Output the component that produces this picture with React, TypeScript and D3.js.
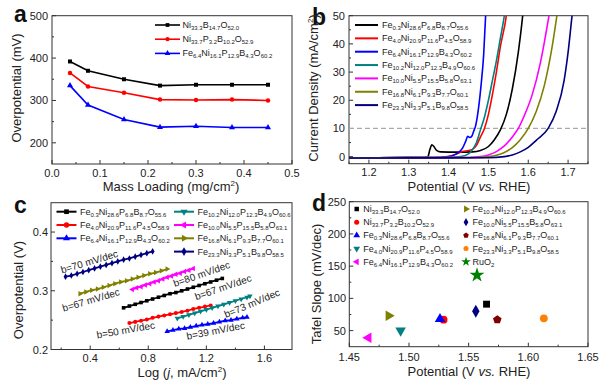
import React from 'react';
import * as d3 from 'd3';

const FONT = 'Arial, "Liberation Sans", Helvetica, sans-serif';
const INK = '#222';

// ---------- Panel a: overpotential vs mass loading ----------
const massLoading = [0.0375, 0.075, 0.15, 0.225, 0.3, 0.375, 0.45];
const etaNiBO = [392, 370, 350, 335, 337, 337, 337];
const etaNiPBO = [365, 333, 318, 302, 301, 302, 300];
const etaFeNiPBO = [335, 289, 255, 237, 239, 236, 236];
const labelsA = ['Ni33.3B14.7O52.0', 'Ni33.7P3.2B10.2O52.9', 'Fe6.4Ni16.1P12.9B4.3O60.2'];
const colorsA = ['#000000', '#ff0000', '#0000ff'];
const shapesA = ['square', 'circle', 'triUp'];

// ---------- Panel b: LSV curves [V, mA/cm2] ----------
const lsvFe03: [number, number][] = [[1.15, -0.4], [1.3, -0.35], [1.34, -0.3], [1.348, 0], [1.353, 2.5], [1.358, 4.2], [1.363, 3.6], [1.37, 2.2], [1.38, 1.7], [1.42, 1.6], [1.46, 1.7], [1.48, 2.2], [1.5, 3.6], [1.515, 6], [1.53, 9.5], [1.545, 15], [1.56, 24], [1.575, 37], [1.586, 50], [1.59, 56]];
const lsvFe40: [number, number][] = [[1.15, -0.4], [1.3, -0.35], [1.38, -0.3], [1.40, 0], [1.42, 1], [1.435, 1.8], [1.45, 2.2], [1.46, 2.6], [1.47, 4], [1.48, 7], [1.49, 10], [1.5, 15], [1.51, 22], [1.52, 30], [1.53, 39], [1.545, 50], [1.55, 56]];
const lsvFe64: [number, number][] = [[1.15, -0.4], [1.3, -0.35], [1.38, -0.2], [1.40, 0], [1.42, 1], [1.435, 3], [1.443, 5.5], [1.448, 7.2], [1.453, 6.8], [1.458, 7.2], [1.463, 9], [1.468, 11], [1.475, 17], [1.482, 26], [1.488, 36], [1.493, 50], [1.496, 56]];
const lsvFe102: [number, number][] = [[1.15, -0.4], [1.3, -0.35], [1.40, -0.3], [1.43, 0], [1.45, 1], [1.46, 2.5], [1.47, 5], [1.48, 9.5], [1.49, 14], [1.5, 20], [1.51, 27], [1.52, 34], [1.53, 42], [1.54, 50], [1.545, 55]];
const lsvFe100: [number, number][] = [[1.15, -0.4], [1.3, -0.35], [1.45, -0.3], [1.48, 0], [1.5, 0.6], [1.52, 1.8], [1.54, 3.8], [1.56, 7], [1.575, 10], [1.59, 14.5], [1.61, 22], [1.63, 33], [1.652, 50], [1.66, 57]];
const lsvFe168: [number, number][] = [[1.15, -0.4], [1.3, -0.35], [1.47, -0.3], [1.5, 0], [1.52, 0.5], [1.54, 1.5], [1.56, 3.2], [1.58, 6], [1.6, 10], [1.62, 16], [1.64, 25], [1.66, 39], [1.672, 50], [1.68, 57]];
const lsvFe233: [number, number][] = [[1.15, -0.5], [1.3, -0.45], [1.5, -0.4], [1.54, 0], [1.56, 0.6], [1.58, 1.7], [1.6, 3.3], [1.62, 5.8], [1.65, 10], [1.67, 16], [1.69, 27], [1.70, 37], [1.71, 50], [1.715, 56]];
const lsvSeries = [lsvFe03, lsvFe40, lsvFe64, lsvFe102, lsvFe100, lsvFe168, lsvFe233];
const labelsB = ['Fe0.3Ni28.6P6.8B8.7O55.6', 'Fe4.0Ni20.9P11.6P4.5O58.9', 'Fe6.4Ni16.1P12.9B4.3O60.2', 'Fe10.2Ni12.0P12.3B4.9O60.6', 'Fe10.0Ni5.5P15.5B5.8O63.1', 'Fe16.8Ni6.1P9.3B7.7O60.1', 'Fe23.3Ni3.3P5.1B9.8O58.5'];
const colorsB = ['#000000', '#ff0000', '#0000ff', '#008080', '#ff00ff', '#808000', '#000080'];
const refCurrent = 10;

// ---------- Panel c: Tafel plots ----------
const tafXFe03 = [0.63, 0.67, 0.71, 0.75, 0.79, 0.83, 0.87, 0.91, 0.95, 0.99, 1.03, 1.07, 1.11, 1.15, 1.19, 1.23, 1.27, 1.31];
const tafYFe03 = [0.271, 0.274, 0.277, 0.280, 0.283, 0.286, 0.289, 0.292, 0.295, 0.297, 0.300, 0.303, 0.306, 0.309, 0.312, 0.315, 0.318, 0.321];
const tafXFe40 = [0.67, 0.71, 0.75, 0.79, 0.83, 0.87, 0.91, 0.95, 0.99, 1.03, 1.07, 1.11, 1.15, 1.19, 1.23];
const tafYFe40 = [0.245, 0.247, 0.249, 0.251, 0.254, 0.256, 0.258, 0.260, 0.262, 0.264, 0.266, 0.269, 0.271, 0.273, 0.275];
const tafXFe64 = [0.93, 0.97, 1.01, 1.05, 1.09, 1.13, 1.17, 1.21, 1.25, 1.29, 1.33, 1.37, 1.41, 1.45, 1.48];
const tafYFe64 = [0.231, 0.233, 0.235, 0.236, 0.238, 0.240, 0.242, 0.243, 0.245, 0.247, 0.249, 0.250, 0.252, 0.254, 0.255];
const tafXFe102 = [1.00, 1.04, 1.08, 1.12, 1.16, 1.20, 1.24, 1.28, 1.32, 1.36, 1.40, 1.44, 1.48, 1.50];
const tafYFe102 = [0.253, 0.256, 0.259, 0.262, 0.265, 0.268, 0.271, 0.274, 0.277, 0.280, 0.283, 0.286, 0.289, 0.291];
const tafXFe100 = [0.69, 0.72, 0.75, 0.78, 0.81, 0.84, 0.87, 0.90, 0.93, 0.96, 0.99, 1.02, 1.05, 1.08, 1.11];
const tafYFe100 = [0.302, 0.305, 0.307, 0.310, 0.312, 0.315, 0.317, 0.320, 0.323, 0.325, 0.328, 0.330, 0.333, 0.335, 0.338];
const tafXFe168 = [0.33, 0.37, 0.41, 0.45, 0.49, 0.53, 0.57, 0.61, 0.65, 0.69, 0.73, 0.77, 0.81, 0.85, 0.89, 0.93];
const tafYFe168 = [0.295, 0.298, 0.301, 0.303, 0.306, 0.309, 0.312, 0.315, 0.317, 0.320, 0.323, 0.326, 0.329, 0.331, 0.334, 0.337];
const tafXFe233 = [0.23, 0.27, 0.31, 0.35, 0.39, 0.43, 0.47, 0.51, 0.55, 0.59, 0.63, 0.67, 0.71, 0.75, 0.79, 0.83];
const tafYFe233 = [0.324, 0.326, 0.329, 0.332, 0.335, 0.338, 0.341, 0.344, 0.347, 0.350, 0.353, 0.355, 0.358, 0.361, 0.364, 0.367];
const tafX = [tafXFe03, tafXFe40, tafXFe64, tafXFe102, tafXFe100, tafXFe168, tafXFe233];
const tafY = [tafYFe03, tafYFe40, tafYFe64, tafYFe102, tafYFe100, tafYFe168, tafYFe233];
const shapesC = ['square', 'circle', 'triUp', 'triDown', 'triLeft', 'triRight', 'diamond'];
const tafelNotes = ['b=67 mV/dec', 'b=50 mV/dec', 'b=39 mV/dec', 'b=73 mV/dec', 'b=80 mV/dec', 'b=67 mV/dec', 'b=70 mV/dec'];

// ---------- Panel d: Tafel slope vs potential ----------
const labelsD = ['Ni33.3B14.7O52.0', 'Ni33.7P3.2B10.2O52.9', 'Fe0.3Ni28.6P6.8B8.7O55.6', 'Fe4.0Ni20.9P11.6P4.5O58.9', 'Fe6.4Ni16.1P12.9B4.3O60.2', 'Fe10.2Ni12.0P12.3B4.9O60.6', 'Fe10.0Ni5.5P15.5B5.8O63.1', 'Fe16.8Ni6.1P9.3B7.7O60.1', 'Fe23.3Ni3.3P5.1B9.8O58.5', 'RuO2'];
const potentialD = [1.565, 1.529, 1.526, 1.493, 1.466, 1.483, 1.556, 1.574, 1.613, 1.557];
const tafelD = [91, 67, 68, 50, 39, 73, 80, 67, 69, 136];
const colorsD = ['#000000', '#ff0000', '#0000ff', '#008080', '#ff00ff', '#808000', '#000080', '#800000', '#ff8000', '#008000'];
const shapesD = ['square', 'circle', 'triUp', 'triDown', 'triLeft', 'triRight', 'diamond', 'pentagon', 'circle', 'star'];

// ---------- scales ----------
const xA = d3.scaleLinear().domain([0, 0.5]).range([52, 292]);
const yA = d3.scaleLinear().domain([150, 500]).range([164, 15.7]);
const xB = d3.scaleLinear().domain([1.15, 1.75]).range([349, 588]);
const yB = d3.scaleLinear().domain([-2.5, 50]).range([163.7, 15.7]);
const xC = d3.scaleLinear().domain([0.13, 1.79]).range([51, 292]);
const yC = d3.scaleLinear().domain([0.2, 0.45]).range([349.5, 202.7]);
const xD = d3.scaleLinear().domain([1.45, 1.65]).range([349.3, 588]);
const yD = d3.scaleLinear().domain([25, 250]).range([346.7, 201.7]);

function pentagonPath(r: number) {
  const pts = d3.range(5).map(i => {
    const a = -Math.PI / 2 + (i * 2 * Math.PI) / 5;
    return [r * Math.cos(a), r * Math.sin(a)];
  });
  return 'M' + pts.map(p => p.join(',')).join('L') + 'Z';
}

function Marker({ shape, x, y, size, color }: { shape: string; x: number; y: number; size: number; color: string }) {
  let d = '';
  let rot = 0;
  if (shape === 'square') d = d3.symbol().type(d3.symbolSquare).size(size)()!;
  else if (shape === 'circle') d = d3.symbol().type(d3.symbolCircle).size(size)()!;
  else if (shape === 'diamond') d = d3.symbol().type(d3.symbolDiamond).size(size)()!;
  else if (shape === 'star') d = d3.symbol().type(d3.symbolStar).size(size)()!;
  else if (shape === 'pentagon') d = pentagonPath(Math.sqrt(size / 2.38));
  else {
    d = d3.symbol().type(d3.symbolTriangle).size(size)()!;
    rot = shape === 'triDown' ? 180 : shape === 'triLeft' ? -90 : shape === 'triRight' ? 90 : 0;
  }
  return <path d={d} transform={`translate(${x},${y}) rotate(${rot})`} fill={color} />;
}

function Chem({ x, y, text, size = 9, sub = 6 }: { x: number; y: number; text: string; size?: number; sub?: number }) {
  const tokens = text.match(/[A-Za-z]+|[\d.]+/g) || [];
  let shifted = false;
  return (
    <text x={x} y={y} fontSize={size} fontFamily={FONT} fill={INK}>
      {tokens.map((t, i) => {
        const isNum = /^[\d.]/.test(t);
        let dy = 0;
        if (isNum && !shifted) { dy = 2; shifted = true; }
        else if (!isNum && shifted) { dy = -2; shifted = false; }
        return <tspan key={i} dy={dy} fontSize={isNum ? sub : size}>{t}</tspan>;
      })}
    </text>
  );
}

type FrameProps = {
  xs: d3.ScaleLinear<number, number>; ys: d3.ScaleLinear<number, number>;
  xMajor: number[]; xMinor: number[]; yMajor: number[]; yMinor: number[];
  xFmt: (v: number) => string; yFmt: (v: number) => string;
  xLabelY: number; yLabelX: number;
};

function Frame({ xs, ys, xMajor, xMinor, yMajor, yMinor, xFmt, yFmt, xLabelY, yLabelX }: FrameProps) {
  const [x0, x1] = xs.range();
  const [y0, y1] = ys.range();
  const st = '#333';
  return (
    <g>
      <rect x={x0} y={y1} width={x1 - x0} height={y0 - y1} fill="none" stroke={st} strokeWidth={1} />
      {xMajor.map((v, i) => <line key={'xM' + i} x1={xs(v)} x2={xs(v)} y1={y0} y2={y0 - 4} stroke={st} />)}
      {xMinor.map((v, i) => <line key={'xm' + i} x1={xs(v)} x2={xs(v)} y1={y0} y2={y0 - 2} stroke={st} />)}
      {yMajor.map((v, i) => <line key={'yM' + i} x1={x0} x2={x0 + 4} y1={ys(v)} y2={ys(v)} stroke={st} />)}
      {yMinor.map((v, i) => <line key={'ym' + i} x1={x0} x2={x0 + 2} y1={ys(v)} y2={ys(v)} stroke={st} />)}
      {xMajor.map((v, i) => (
        <text key={'xl' + i} x={xs(v)} y={xLabelY} textAnchor="middle" fontSize={11} fontFamily={FONT} fill={INK}>{xFmt(v)}</text>
      ))}
      {yMajor.map((v, i) => (
        <text key={'yl' + i} x={yLabelX} y={ys(v) + 4} textAnchor="end" fontSize={11} fontFamily={FONT} fill={INK}>{yFmt(v)}</text>
      ))}
    </g>
  );
}

function YTitle({ x, y, children }: { x: number; y: number; children: React.ReactNode }) {
  return (
    <text transform={`translate(${x},${y}) rotate(-90)`} textAnchor="middle" fontSize={13} fontFamily={FONT} fill={INK}>{children}</text>
  );
}

function XTitle({ x, y, children }: { x: number; y: number; children: React.ReactNode }) {
  return <text x={x} y={y} textAnchor="middle" fontSize={13} fontFamily={FONT} fill={INK}>{children}</text>;
}

function PanelLetter({ x, y, t }: { x: number; y: number; t: string }) {
  return <text x={x} y={y} fontSize={23} fontWeight="bold" fontFamily={FONT} fill="#111">{t}</text>;
}

const sq = (
  <>
    (mA/cm<tspan dy={-5} fontSize={8}>2</tspan><tspan dy={5}>)</tspan>
  </>
);

export default function App() {
  const f1 = d3.format('.1f');
  const f2 = d3.format('.2f');
  const f0 = d3.format('d');
  const seriesA = [etaNiBO, etaNiPBO, etaFeNiPBO];
  const lineA = d3.line<number>().x((_, i) => xA(massLoading[i])).y(d => yA(d));
  const lineB = d3.line<[number, number]>().x(d => xB(d[0])).y(d => yB(d[1])).curve(d3.curveMonotoneX);
  const lineC = (k: number) => d3.line<number>().x(d => xC(d)).y((_, i) => yC(tafY[k][i]))(tafX[k]) || '';

  // annotation placements for panel c (series index order)
  const noteX = [223, 125.7, 215.7, 252, 201.7, 91, 89.3];
  const noteY = [287.3, 330, 330.7, 303.3, 274, 300, 261.7];
  const noteA = [-19, -10, -11, -23, -19, -16.5, -16.7];

  return (
    <svg width={600} height={383} style={{ position: 'absolute', left: 0, top: 0, background: '#fff' }}>
      <defs>
        <clipPath id="clipB"><rect x={349} y={15.7} width={239} height={148} /></clipPath>
      </defs>
      <rect x={0} y={0} width={600} height={383} fill="#fff" />

      {/* ---------------- Panel a ---------------- */}
      <PanelLetter x={14} y={22} t="a" />
      <Frame xs={xA} ys={yA}
        xMajor={[0, 0.1, 0.2, 0.3, 0.4, 0.5]} xMinor={[0.05, 0.15, 0.25, 0.35, 0.45]}
        yMajor={[200, 300, 400, 500]} yMinor={[250, 350, 450]}
        xFmt={f1} yFmt={f0} xLabelY={176.5} yLabelX={48} />
      {seriesA.map((s, k) => (
        <g key={'a' + k}>
          <path d={lineA(s) || ''} fill="none" stroke={colorsA[k]} strokeWidth={1.6} />
          {s.map((v, i) => <Marker key={i} shape={shapesA[k]} x={xA(massLoading[i])} y={yA(v)} size={16} color={colorsA[k]} />)}
        </g>
      ))}
      {labelsA.map((lab, k) => {
        const yy = 25 + k * 14.2;
        return (
          <g key={'la' + k}>
            <line x1={155} x2={180} y1={yy} y2={yy} stroke={colorsA[k]} strokeWidth={1.6} />
            <Marker shape={shapesA[k]} x={167.5} y={yy} size={14} color={colorsA[k]} />
            <Chem x={182.5} y={yy + 3} text={lab} />
          </g>
        );
      })}
      <YTitle x={21} y={88}>Overpotential (mV)</YTitle>
      <XTitle x={171} y={191}>Mass Loading (mg/cm<tspan dy={-5} fontSize={8}>2</tspan><tspan dy={5}>)</tspan></XTitle>

      {/* ---------------- Panel b ---------------- */}
      <PanelLetter x={312} y={25} t="b" />
      <Frame xs={xB} ys={yB}
        xMajor={[1.2, 1.3, 1.4, 1.5, 1.6, 1.7]} xMinor={[1.15, 1.25, 1.35, 1.45, 1.55, 1.65, 1.75]}
        yMajor={[0, 10, 20, 30, 40, 50]} yMinor={[5, 15, 25, 35, 45]}
        xFmt={f1} yFmt={f0} xLabelY={176} yLabelX={345} />
      <line x1={349} x2={588} y1={yB(refCurrent)} y2={yB(refCurrent)} stroke="#aaaaaa" strokeWidth={1.3} strokeDasharray="5,3" />
      <g clipPath="url(#clipB)">
        {lsvSeries.map((s, k) => (
          <path key={'b' + k} d={lineB(s) || ''} fill="none" stroke={colorsB[k]} strokeWidth={1.6} />
        ))}
      </g>
      {labelsB.map((lab, k) => {
        const yy = 25 + k * 13.35;
        return (
          <g key={'lb' + k}>
            <line x1={355} x2={378} y1={yy} y2={yy} stroke={colorsB[k]} strokeWidth={2} />
            <Chem x={382} y={yy + 3} text={lab} />
          </g>
        );
      })}
      <YTitle x={318} y={88}>Current Density {sq}</YTitle>
      <XTitle x={469} y={191}>Potential (V <tspan fontStyle="italic">vs.</tspan> RHE)</XTitle>

      {/* ---------------- Panel c ---------------- */}
      <PanelLetter x={14} y={213} t="c" />
      <Frame xs={xC} ys={yC}
        xMajor={[0.4, 0.8, 1.2, 1.6]} xMinor={[0.2, 0.6, 1.0, 1.4]}
        yMajor={[0.2, 0.3, 0.4]} yMinor={[0.25, 0.35]}
        xFmt={f1} yFmt={f1} xLabelY={362} yLabelX={48} />
      {tafX.map((xsArr, k) => (
        <g key={'c' + k}>
          <path d={lineC(k)} fill="none" stroke={colorsB[k]} strokeWidth={1.8} />
          {xsArr.map((v, i) => <Marker key={i} shape={shapesC[k]} x={xC(v)} y={yC(tafY[k][i])} size={13} color={colorsB[k]} />)}
          <text transform={`translate(${noteX[k]},${noteY[k]}) rotate(${noteA[k]})`} textAnchor="middle" dominantBaseline="central"
            fontSize={10} fontFamily={FONT} fill={INK}>{tafelNotes[k]}</text>
        </g>
      ))}
      {labelsB.map((lab, k) => {
        const col = k < 3 ? 0 : 1;
        const row = k < 3 ? k : k - 3;
        const yy = 211.7 + row * 13.3;
        const lx = col === 0 ? 56.5 : 174;
        return (
          <g key={'lc' + k}>
            <line x1={lx} x2={lx + 20} y1={yy} y2={yy} stroke={colorsB[k]} strokeWidth={2} />
            <Marker shape={shapesC[k]} x={lx + 10} y={yy} size={22} color={colorsB[k]} />
            <Chem x={lx + 23.5} y={yy + 3} text={lab} />
          </g>
        );
      })}
      <YTitle x={23} y={290}>Overpotential (V)</YTitle>
      <XTitle x={182} y={377}>Log (<tspan fontStyle="italic">j</tspan>, mA/cm<tspan dy={-5} fontSize={8}>2</tspan><tspan dy={5}>)</tspan></XTitle>

      {/* ---------------- Panel d ---------------- */}
      <PanelLetter x={312} y={211} t="d" />
      <Frame xs={xD} ys={yD}
        xMajor={[1.45, 1.5, 1.55, 1.6, 1.65]} xMinor={[1.475, 1.525, 1.575, 1.625]}
        yMajor={[50, 100, 150, 200, 250]} yMinor={[75, 125, 175, 225]}
        xFmt={f2} yFmt={f0} xLabelY={360.5} yLabelX={346} />
      {potentialD.map((v, i) => (
        <Marker key={'d' + i} shape={shapesD[i]} x={xD(v)} y={yD(tafelD[i])} size={i === 9 ? 70 : 48} color={colorsD[i]} />
      ))}
      {labelsD.map((lab, k) => {
        const col = k < 5 ? 0 : 1;
        const row = k < 5 ? k : k - 5;
        const yy = 209 + row * 13.2;
        const mx = col === 0 ? 356.7 : 466;
        return (
          <g key={'ld' + k}>
            <Marker shape={shapesD[k]} x={mx} y={yy} size={k === 9 ? 28 : 20} color={colorsD[k]} />
            <Chem x={mx + 6.5} y={yy + 3} text={lab} />
          </g>
        );
      })}
      <YTitle x={321} y={284}>Tafel Slope (mV/dec)</YTitle>
      <XTitle x={469} y={376}>Potential (V <tspan fontStyle="italic">vs.</tspan> RHE)</XTitle>
    </svg>
  );
}
